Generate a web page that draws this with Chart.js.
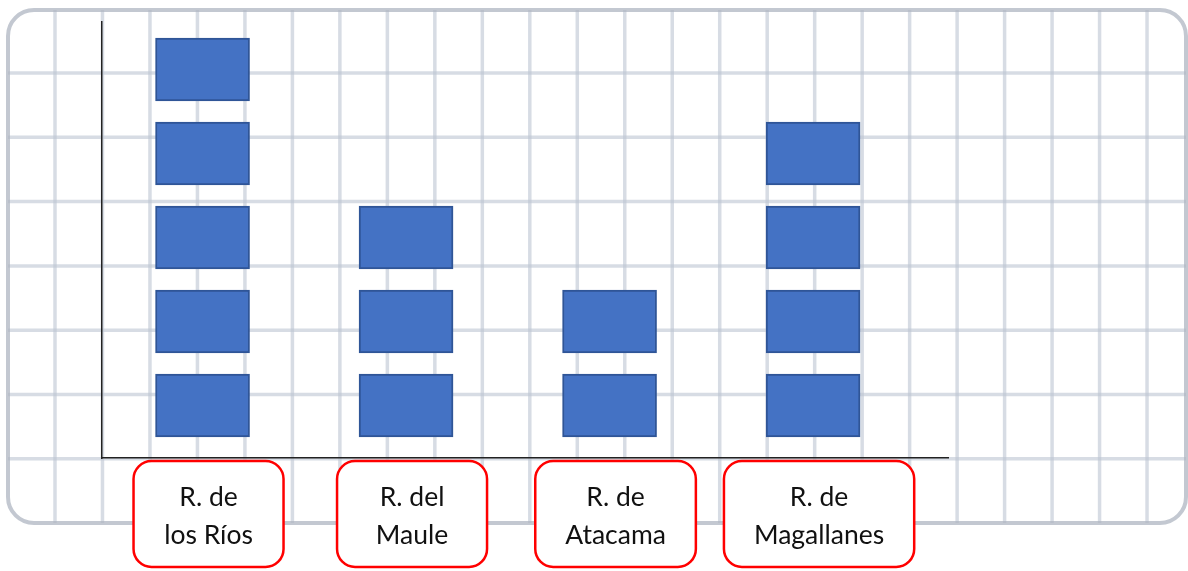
<!DOCTYPE html>
<html lang="es">
<head>
  <meta charset="UTF-8" />
  <title>Regiones</title>
  <script src="https://cdn.jsdelivr.net/npm/chart.js"></script>
  <style>
    html, body {
      margin: 0;
      padding: 0;
      background: #fff;
    }
    #wrap {
      width: 1188px;
      height: 571px;
    }
  </style>
</head>
<body>
  <div id="wrap">
    <canvas id="regionChart" width="1188" height="571"></canvas>
  </div>

  <script>
    // regions shown on the x axis (two lines each)
    const regionLabels = [
      ['R. de', 'los Ríos'],
      ['R. del', 'Maule'],
      ['R. de', 'Atacama'],
      ['R. de', 'Magallanes']
    ];
    // number of blue blocks stacked per region
    const blockCounts = [5, 3, 2, 4];

    const blockGap = 0.25;   // empty part at the bottom of every unit
    const maxBlocks = Math.max(...blockCounts);

    // one dataset per stack level, each block is a floating bar [k+gap, k+1]
    const datasets = [];
    for (let k = 0; k < maxBlocks; k++) {
      const pts = [];
      blockCounts.forEach((c, i) => {
        if (c > k) pts.push({ x: i, y: [k + blockGap, k + 1] });
      });
      datasets.push({
        data: pts,
        backgroundColor: '#4472c4',
        borderColor: '#2f5597',
        borderWidth: 2,
        borderSkipped: false,
        barThickness: 94,
        grouped: false
      });
    }

    // squared notebook background
    const paperGrid = {
      id: 'paperGrid',
      beforeDraw(chart) {
        const ctx = chart.ctx;
        const left = 8, top = 10, right = 1186, bottom = 523, r = 26;
        ctx.save();
        ctx.beginPath();
        ctx.roundRect(left, top, right - left, bottom - top, r);
        ctx.fillStyle = '#fff';
        ctx.fill();
        ctx.clip();
        ctx.strokeStyle = 'rgba(188,196,210,0.6)';
        ctx.lineWidth = 3.5;
        for (let x = 55; x < right; x += 47.48) {
          ctx.beginPath();
          ctx.moveTo(x, top);
          ctx.lineTo(x, bottom);
          ctx.stroke();
        }
        for (let y = 73; y < bottom; y += 64.3) {
          ctx.beginPath();
          ctx.moveTo(left, y);
          ctx.lineTo(right, y);
          ctx.stroke();
        }
        ctx.restore();
        ctx.save();
        ctx.beginPath();
        ctx.roundRect(left, top, right - left, bottom - top, r);
        ctx.strokeStyle = 'rgba(175,182,194,0.75)';
        ctx.lineWidth = 4;
        ctx.stroke();
        ctx.restore();
      }
    };

    // red rounded boxes with the region names under the axis
    const regionBoxes = {
      id: 'regionBoxes',
      afterDraw(chart) {
        const ctx = chart.ctx;
        const xs = chart.scales.x;
        const axisY = chart.chartArea.bottom;
        ctx.save();
        ctx.font = '26.5px Lato, "Liberation Sans", sans-serif';
        ctx.textAlign = 'center';
        ctx.textBaseline = 'alphabetic';
        regionLabels.forEach((lines, i) => {
          const cx = xs.getPixelForValue(i) + 6;
          const textW = Math.max(...lines.map(l => ctx.measureText(l).width));
          const w = Math.max(150, textW + 60);
          const top = axisY + 3, h = 106;
          ctx.beginPath();
          ctx.roundRect(cx - w / 2, top, w, h, 18);
          ctx.fillStyle = '#fff';
          ctx.fill();
          ctx.strokeStyle = '#ff0000';
          ctx.lineWidth = 2.5;
          ctx.stroke();
          ctx.fillStyle = '#111';
          lines.forEach((l, j) => {
            ctx.fillText(l, cx, top + 45 + j * 38);
          });
        });
        ctx.restore();
      }
    };

    new Chart(document.getElementById('regionChart'), {
      type: 'bar',
      data: { datasets },
      options: {
        responsive: false,
        animation: false,
        layout: {
          padding: { left: 102, right: 240, top: 22, bottom: 113 }
        },
        plugins: {
          legend: { display: false },
          tooltip: { enabled: false }
        },
        scales: {
          x: {
            type: 'linear',
            offset: false,
            min: -0.494,
            max: 3.663,
            ticks: { display: false },
            grid: { display: false, drawTicks: false, offset: false },
            border: { display: true, color: '#222', width: 1.5 }
          },
          y: {
            min: 0,
            max: 5.19,
            ticks: { display: false },
            grid: { display: false, drawTicks: false },
            border: { display: true, color: '#222', width: 1.5 }
          }
        }
      },
      plugins: [paperGrid, regionBoxes]
    });
  </script>
</body>
</html>
